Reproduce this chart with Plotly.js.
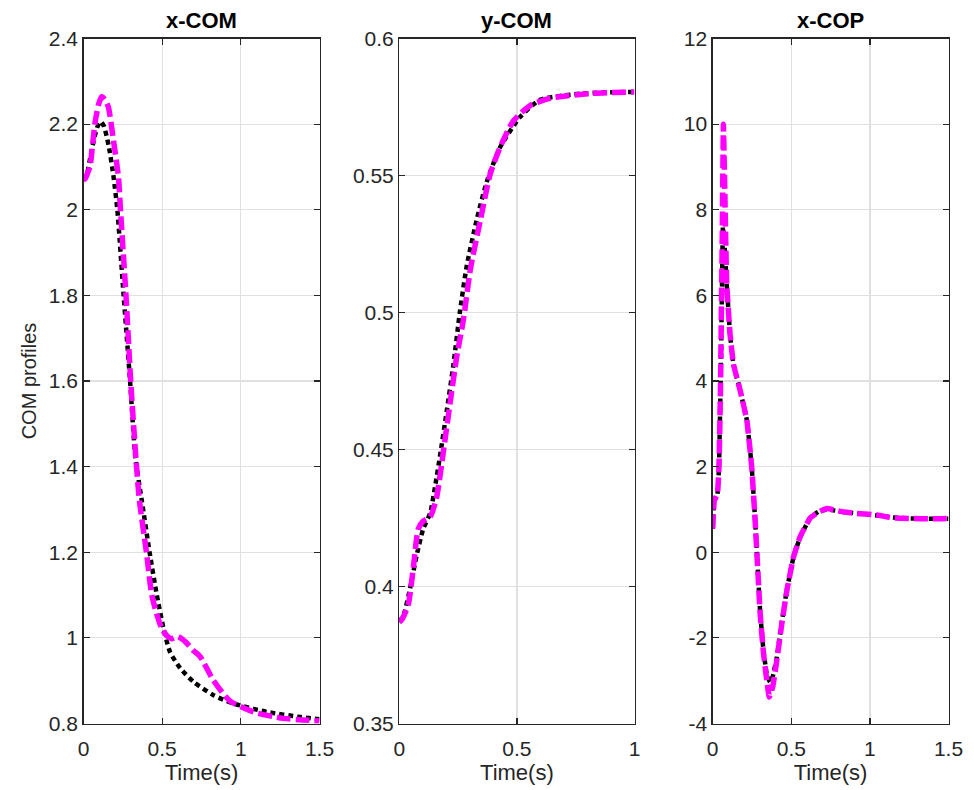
<!DOCTYPE html>
<html>
<head>
<meta charset="utf-8">
<script src="https://cdn.plot.ly/plotly-3.0.1.min.js"></script>
<style>html,body{margin:0;padding:0;background:#fff;}#chart{width:974px;height:790px;}</style>
</head>
<body>
<div id="chart"></div>
<script>
// ---- x-COM ----
const xcomRefT = [0, 0.02, 0.04, 0.07, 0.09, 0.11, 0.13, 0.16, 0.19, 0.215, 0.255, 0.296, 0.33, 0.37, 0.42, 0.466, 0.51, 0.55, 0.615, 0.70, 0.827, 0.95, 1.166, 1.38, 1.5];
const xcomRefY = [2.07, 2.08, 2.116, 2.17, 2.195, 2.206, 2.195, 2.15, 2.08, 2.0, 1.8, 1.6, 1.42, 1.322, 1.2, 1.1, 1.02, 0.967, 0.929, 0.897, 0.866, 0.847, 0.827, 0.815, 0.81];
const xcomSimT = [0, 0.01, 0.025, 0.041, 0.06, 0.073, 0.095, 0.116, 0.135, 0.158, 0.19, 0.222, 0.235, 0.27, 0.30, 0.334, 0.355, 0.40, 0.434, 0.47, 0.50, 0.53, 0.56, 0.60, 0.65, 0.70, 0.742, 0.827, 0.93, 1.08, 1.27, 1.5];
const xcomSimY = [2.07, 2.072, 2.085, 2.10, 2.16, 2.202, 2.245, 2.264, 2.258, 2.24, 2.163, 2.077, 2.0, 1.8, 1.6, 1.415, 1.322, 1.2, 1.1, 1.05, 1.02, 1.005, 0.998, 1.003, 0.99, 0.97, 0.956, 0.90, 0.853, 0.827, 0.812, 0.806];

// ---- y-COM ----
const ycomRefT = [0, 0.02, 0.045, 0.074, 0.102, 0.131, 0.152, 0.173, 0.202, 0.23, 0.258, 0.287, 0.329, 0.372, 0.428, 0.513, 0.598, 0.738, 0.87, 1.0];
const ycomRefY = [0.387, 0.39, 0.399, 0.4114, 0.4211, 0.4267, 0.4364, 0.4476, 0.4642, 0.4809, 0.5004, 0.5171, 0.5338, 0.5477, 0.5602, 0.5713, 0.5776, 0.5796, 0.5803, 0.5805];
const ycomSimT = [0, 0.01, 0.038, 0.06, 0.081, 0.102, 0.131, 0.158, 0.187, 0.216, 0.244, 0.273, 0.302, 0.345, 0.386, 0.428, 0.485, 0.556, 0.641, 0.81, 1.0];
const ycomSimY = [0.387, 0.3878, 0.3933, 0.4072, 0.4211, 0.4239, 0.4254, 0.4323, 0.449, 0.467, 0.4838, 0.4976, 0.5157, 0.5338, 0.5504, 0.5602, 0.5699, 0.5755, 0.5782, 0.5799, 0.5805];

// ---- x-COP ----
const xcopRefT = [0, 0.01, 0.03, 0.04, 0.05, 0.058, 0.065, 0.075, 0.089, 0.11, 0.131, 0.174, 0.217, 0.248, 0.269, 0.284, 0.302, 0.323, 0.344, 0.365, 0.382, 0.408, 0.44, 0.472, 0.514, 0.556, 0.62, 0.673, 0.726, 0.833, 0.94, 1.046, 1.15, 1.258, 1.4, 1.5];
const xcopRefY = [0.55, 1.2, 1.35, 2.0, 3.9, 5.9, 7.6, 7.2, 6.28, 5.11, 4.41, 3.79, 3.09, 2.0, 0.8, -0.2, -1.4, -2.3, -2.85, -3.03, -2.9, -2.45, -1.62, -0.87, -0.12, 0.35, 0.8, 0.95, 1.0, 0.94, 0.90, 0.86, 0.81, 0.79, 0.78, 0.78];
const xcopSimT = [0, 0.01, 0.03, 0.04, 0.05, 0.056, 0.061, 0.068, 0.078, 0.089, 0.11, 0.131, 0.174, 0.217, 0.248, 0.269, 0.284, 0.302, 0.323, 0.344, 0.36, 0.382, 0.408, 0.44, 0.472, 0.514, 0.556, 0.62, 0.673, 0.726, 0.78, 0.833, 0.94, 1.046, 1.15, 1.258, 1.4, 1.5];
const xcopSimY = [0.55, 1.2, 1.37, 2.0, 3.94, 5.89, 7.45, 10.0, 8.23, 6.28, 5.11, 4.41, 3.79, 3.09, 2.0, 0.8, -0.22, -1.43, -2.36, -2.99, -3.38, -3.14, -2.52, -1.66, -0.89, -0.11, 0.36, 0.8, 0.94, 1.02, 0.98, 0.94, 0.90, 0.87, 0.80, 0.79, 0.78, 0.79];

// ---- ticks & labels ----
const panelTitles = ['x-COM', 'y-COM', 'x-COP'];
const xLabel = 'Time(s)';
const yLabel = 'COM profiles';
const x1Ticks = [0, 0.5, 1, 1.5], x1Text = ['0', '0.5', '1', '1.5'];
const x2Ticks = [0, 0.5, 1], x2Text = ['0', '0.5', '1'];
const x3Ticks = [0, 0.5, 1, 1.5], x3Text = ['0', '0.5', '1', '1.5'];
const y1Ticks = [0.8, 1, 1.2, 1.4, 1.6, 1.8, 2, 2.2, 2.4], y1Text = ['0.8', '1', '1.2', '1.4', '1.6', '1.8', '2', '2.2', '2.4'];
const y2Ticks = [0.35, 0.4, 0.45, 0.5, 0.55, 0.6], y2Text = ['0.35', '0.4', '0.45', '0.5', '0.55', '0.6'];
const y3Ticks = [-4, -2, 0, 2, 4, 6, 8, 10, 12], y3Text = ['-4', '-2', '0', '2', '4', '6', '8', '10', '12'];

const refLine = {color: '#000000', width: 4.5, dash: '5px,4px', shape: 'spline', smoothing: 0.6};
const simLine = {color: '#FF00FF', width: 5.5, dash: '14px,5px', shape: 'spline', smoothing: 0.6};
const refLine3 = Object.assign({}, refLine, {smoothing: 0.3});
const simLine3 = Object.assign({}, simLine, {smoothing: 0.3});

const traces = [
  {x: xcomRefT, y: xcomRefY, xaxis: 'x', yaxis: 'y', mode: 'lines', line: refLine},
  {x: xcomSimT, y: xcomSimY, xaxis: 'x', yaxis: 'y', mode: 'lines', line: simLine},
  {x: ycomRefT, y: ycomRefY, xaxis: 'x2', yaxis: 'y2', mode: 'lines', line: refLine},
  {x: ycomSimT, y: ycomSimY, xaxis: 'x2', yaxis: 'y2', mode: 'lines', line: simLine},
  {x: xcopRefT, y: xcopRefY, xaxis: 'x3', yaxis: 'y3', mode: 'lines', line: refLine3},
  {x: xcopSimT, y: xcopSimY, xaxis: 'x3', yaxis: 'y3', mode: 'lines', line: simLine3}
];

const W = 974, H = 790;
const yDom = [1 - 723.5 / H, 1 - 38.5 / H];
const xDoms = [[83.5 / W, 319.5 / W], [399.3 / W, 634.5 / W], [712.7 / W, 948.5 / W]];
const fontFam = '"Liberation Sans", Arial, Helvetica, sans-serif';
const axisCol = '#262626';

function xax(dom, range, tv, tt, anchor) {
  return {
    domain: dom, range: range, anchor: anchor,
    tickvals: tv, ticktext: tt,
    ticks: 'inside', ticklen: 6, tickwidth: 1.2, tickcolor: axisCol,
    showline: true, linecolor: axisCol, linewidth: 1.3, mirror: 'ticks',
    showgrid: true, gridcolor: '#e0e0e0', gridwidth: 1.2,
    zeroline: false, fixedrange: true, ticklabelstandoff: 6,
    tickfont: {family: fontFam, size: 21, color: axisCol},
    title: {text: xLabel, font: {family: fontFam, size: 22, color: axisCol}, standoff: 4}
  };
}
function yax(range, tv, tt, anchor, title) {
  const a = {
    domain: yDom, range: range, anchor: anchor,
    tickvals: tv, ticktext: tt,
    ticks: 'inside', ticklen: 6, tickwidth: 1.2, tickcolor: axisCol,
    showline: true, linecolor: axisCol, linewidth: 1.3, mirror: 'ticks',
    showgrid: true, gridcolor: '#e0e0e0', gridwidth: 1.2,
    zeroline: false, fixedrange: true,
    tickfont: {family: fontFam, size: 21, color: axisCol}
  };
  if (title) a.title = {text: title, font: {family: fontFam, size: 20, color: axisCol}, standoff: 6};
  return a;
}

const annotations = panelTitles.map((t, i) => ({
  text: '<b>' + t + '</b>', xref: 'paper', yref: 'paper',
  x: (xDoms[i][0] + xDoms[i][1]) / 2, y: 1 - 20 / H,
  xanchor: 'center', yanchor: 'middle', showarrow: false,
  font: {family: fontFam, size: 22, color: '#000000'}
}));

const layout = {
  width: W, height: H,
  margin: {l: 0, r: 0, t: 0, b: 0},
  paper_bgcolor: '#ffffff', plot_bgcolor: '#ffffff',
  showlegend: false,
  xaxis: xax(xDoms[0], [0, 1.5], x1Ticks, x1Text, 'y'),
  xaxis2: xax(xDoms[1], [0, 1], x2Ticks, x2Text, 'y2'),
  xaxis3: xax(xDoms[2], [0, 1.5], x3Ticks, x3Text, 'y3'),
  yaxis: yax([0.8, 2.4], y1Ticks, y1Text, 'x', yLabel),
  yaxis2: yax([0.35, 0.6], y2Ticks, y2Text, 'x2'),
  yaxis3: yax([-4, 12], y3Ticks, y3Text, 'x3'),
  annotations: annotations
};

Plotly.newPlot('chart', traces, layout, {displayModeBar: false, staticPlot: true});
</script>
</body>
</html>
